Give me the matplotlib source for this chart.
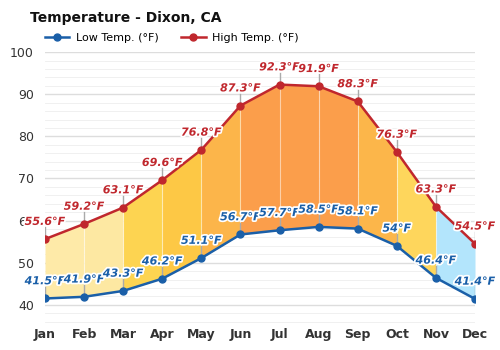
import matplotlib.pyplot as plt
import matplotlib.patheffects as pe
import numpy as np

months = ["Jan", "Feb", "Mar", "Apr", "May", "Jun", "Jul", "Aug", "Sep", "Oct", "Nov", "Dec"]
low = [41.5, 41.9, 43.3, 46.2, 51.1, 56.7, 57.7, 58.5, 58.1, 54, 46.4, 41.4]
high = [55.6, 59.2, 63.1, 69.6, 76.8, 87.3, 92.3, 91.9, 88.3, 76.3, 63.3, 54.5]
low_labels = ["41.5°F", "41.9°F", "43.3°F", "46.2°F", "51.1°F", "56.7°F", "57.7°F", "58.5°F", "58.1°F", "54°F", "46.4°F", "41.4°F"]
high_labels = ["55.6°F", "59.2°F", "63.1°F", "69.6°F", "76.8°F", "87.3°F", "92.3°F", "91.9°F", "88.3°F", "76.3°F", "63.3°F", "54.5°F"]
seg_colors = ["#feeaa8", "#fde8a2", "#fdd451", "#fdc845", "#fcb54a", "#fb9e4b",
              "#fb9e4b", "#fb9e4b", "#fcb64a", "#fed65c", "#b3e5fc"]

low_c = "#1a5fa8"
high_c = "#c0272d"

fig = plt.figure(figsize=(5, 3.5), dpi=100)
ax = fig.add_axes([0.09, 0.075, 0.86, 0.776])
x = np.arange(len(months))

for i in range(len(months) - 1):
    ax.fill_between(x[i:i + 2], low[i:i + 2], high[i:i + 2], color=seg_colors[i], lw=0, zorder=1)
    if i > 0:
        ax.plot([x[i], x[i]], [low[i], high[i]], color="white", lw=0.8, alpha=0.5, zorder=1.5)

ax.plot(x, low, color=low_c, lw=1.8, marker="o", ms=5, zorder=3, label="Low Temp. (°F)")
ax.plot(x, high, color=high_c, lw=1.8, marker="o", ms=5, zorder=3, label="High Temp. (°F)")

stroke = [pe.withStroke(linewidth=2.5, foreground="white")]
for i in range(len(months)):
    for vals, labs, c in ((low, low_labels, low_c), (high, high_labels, high_c)):
        ax.plot([x[i], x[i]], [vals[i], vals[i] + 2.8], color="#aaaaaa", lw=1, zorder=2)
        ax.text(x[i], vals[i] + 2.9, labs[i], color=c, fontsize=8, fontweight="bold",
                fontstyle="italic", ha="center", va="bottom", path_effects=stroke, zorder=4)

ax.set_xlim(0, 11)
ax.set_ylim(35.5, 100)
ax.set_yticks([40, 50, 60, 70, 80, 90, 100])
ax.set_yticks(np.arange(36, 100, 2), minor=True)
ax.grid(axis="y", which="major", color="#dddddd", lw=1)
ax.grid(axis="y", which="minor", color="#eeeeee", lw=0.6)
ax.set_axisbelow(True)
ax.set_xticks(x)
ax.set_xticklabels(months, fontsize=9, fontweight="bold", color="#333333")
ax.tick_params(axis="y", labelsize=9, colors="#333333", length=0, pad=8)
ax.tick_params(axis="x", length=0, pad=3)
ax.tick_params(which="minor", length=0)
for s in ax.spines.values():
    s.set_visible(False)

fig.text(0.06, 0.949, "Temperature - Dixon, CA", fontsize=10, fontweight="bold", color="#111111", va="center")
fig.legend(*ax.get_legend_handles_labels(), loc="center left", bbox_to_anchor=(0.09, 0.891), ncol=2,
           frameon=False, fontsize=8, handlelength=2.2, columnspacing=2.0, borderaxespad=0,
           borderpad=0, handletextpad=0.6)

fig.savefig("out.png", dpi=100)
